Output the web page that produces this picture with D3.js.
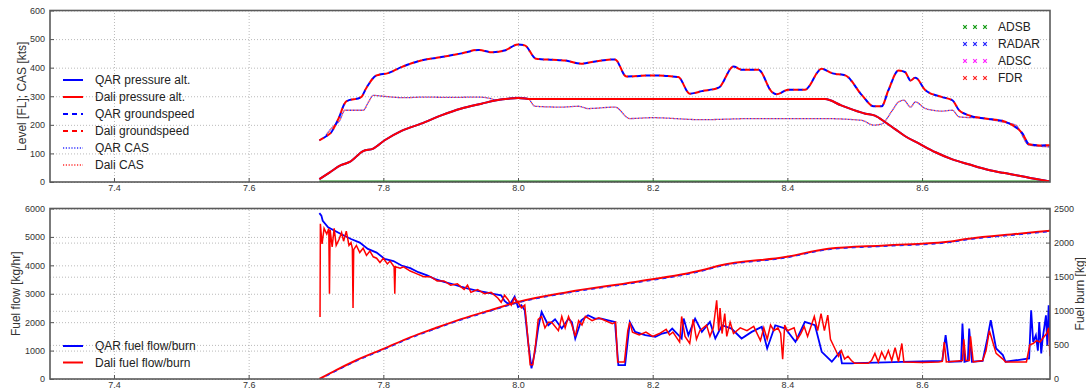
<!DOCTYPE html>
<html>
<head>
<meta charset="utf-8">
<script src="https://cdn.jsdelivr.net/npm/d3@7/dist/d3.min.js"></script>
<style>
  body { margin: 0; background: #fff; }
  svg { font-family: "Liberation Sans", Arial, sans-serif; }
  .tick text { fill: #333; font-size: 9px; }
  .grid line { stroke: #a8a8a8; stroke-width: 0.8; stroke-dasharray: 1,2; }
  .frame { fill: none; stroke: #5a5a5a; stroke-width: 1.6; }
  .lbl { fill: #333; font-size: 12px; }
  .leg { fill: #222; font-size: 12px; }
</style>
</head>
<body>
<div id="chart"></div>
<script>
// ---- data (time in hours) ----

// pressure altitude [FL] (QAR and Dali sit on top of each other)
var altTime = [7.705,7.72,7.737,7.75,7.77,7.785,7.802,7.827,7.856,7.886,7.916,7.946,7.966,7.985,8.0,8.02,8.456,8.48,8.516,8.53,8.545,8.56,8.575,8.595,8.62,8.645,8.669,8.699,8.72,8.744,8.765,8.79];
var altQAR  = [10,33,59,70,108,117,146,179,204,233,257,274,285,291,294,290,290,268,239,232,210,185,160,135,104,79,62,42,32,22,12,2];
var altDali = [10,33,59,70,108,117,146,179,204,233,257,274,285,291,294,290,290,268,239,232,210,185,160,135,104,79,62,42,32,22,12,2];

// groundspeed [kts]
var gsTime = [7.705,7.715,7.723,7.73,7.735,7.740,7.745,7.767,7.775,7.79,7.807,7.827,7.856,7.886,7.916,7.941,7.961,7.98,8.0,8.01,8.027,8.07,8.094,8.11,8.144,8.161,8.199,8.238,8.255,8.273,8.298,8.32,8.332,8.357,8.377,8.384,8.402,8.426,8.451,8.466,8.486,8.511,8.528,8.54,8.55,8.565,8.575,8.583,8.59,8.605,8.63,8.645,8.655,8.67,8.694,8.719,8.734,8.749,8.759,8.775,8.79];
var gsQAR  = [146,160,175,205,230,262,282,297,330,373,381,402,425,437,450,462,454,460,481,478,431,425,414,420,429,369,373,367,309,318,330,404,393,393,315,307,323,323,396,381,373,303,265,265,321,390,384,355,365,321,297,286,251,233,222,214,199,170,132,128,129];
var gsDali = [146,160,175,205,230,262,282,297,330,373,381,402,425,437,450,462,454,460,481,478,431,425,414,420,429,369,373,367,309,318,330,404,393,393,315,307,323,323,396,381,373,303,265,265,321,390,384,355,365,321,297,286,251,233,222,214,199,170,132,128,129];

// calibrated airspeed [kts]
var casTime = [7.715,7.722,7.728,7.735,7.743,7.770,7.778,7.785,7.80,7.83,7.86,7.90,7.94,7.96,7.966,7.98,8.0,8.015,8.025,8.065,8.09,8.104,8.144,8.166,8.199,8.273,8.35,8.45,8.51,8.528,8.54,8.556,8.565,8.573,8.583,8.59,8.605,8.63,8.645,8.655,8.694,8.719,8.739,8.759,8.79];
var casQAR  = [165,185,199,215,251,251,280,303,300,295,297,296,297,292,286,290,296,292,265,262,265,257,262,222,225,218,222,222,216,199,203,251,280,286,262,280,257,248,251,228,222,210,199,129,123];
var casDali = [165,185,199,215,251,251,280,303,300,295,297,296,297,292,286,290,296,292,265,262,265,257,262,222,225,218,222,222,216,199,203,251,280,286,262,280,257,248,251,228,222,210,199,129,123];

// ADSB track points (all at level 0)
var adsbTime = [7.705, 8.79];
var adsbLevel = [0, 0];

// QAR fuel flow [kg/hr]
var qffTime = [7.705,7.708,7.710,7.718,7.737,7.752,7.765,7.777,7.79,7.802,7.815,7.827,7.84,7.852,7.865,7.876,7.89,7.901,7.915,7.926,7.94,7.951,7.965,7.975,7.980,7.985,7.99,7.995,8.0,8.005,8.010,8.015,8.020,8.025,8.030,8.035,8.045,8.055,8.065,8.075,8.080,8.085,8.094,8.104,8.114,8.124,8.134,8.144,8.149,8.159,8.166,8.174,8.189,8.204,8.214,8.224,8.229,8.243,8.246,8.253,8.263,8.273,8.285,8.293,8.303,8.317,8.332,8.347,8.362,8.370,8.382,8.397,8.412,8.426,8.441,8.451,8.466,8.478,8.481,8.496,8.5,8.545,8.570,8.630,8.635,8.640,8.658,8.660,8.663,8.668,8.670,8.674,8.690,8.697,8.702,8.71,8.72,8.724,8.759,8.762,8.765,8.769,8.772,8.774,8.777,8.779,8.784,8.786,8.788,8.79];
var qff = [5838,5750,5569,5335,5102,4927,4800,4577,4450,4227,4150,3993,3900,3759,3650,3526,3420,3352,3250,3177,3100,3060,2990,2942,2750,2650,2700,2900,2532,2600,2417,1307,374,956,1800,2357,1891,2100,1775,2125,2000,1425,2067,2242,2125,2125,2067,2008,490,490,2008,1658,1541,1483,1600,1658,1775,1425,2125,1541,2125,1658,2008,1425,1891,1775,1425,1658,1833,1075,1891,1775,1307,2008,1891,956,607,956,549,549,560,583,600,640,1541,607,620,1950,607,640,1775,607,640,1425,2067,1075,840,607,723,2417,1300,1541,1000,2000,900,1400,2242,1200,2591,1541];

// Dali fuel flow [kg/hr]
var dffTime = [7.706,7.7065,7.709,7.712,7.716,7.719,7.720,7.721,7.724,7.727,7.73,7.734,7.738,7.741,7.745,7.749,7.752,7.754,7.755,7.756,7.76,7.765,7.77,7.775,7.78,7.785,7.79,7.795,7.80,7.806,7.81,7.816,7.817,7.818,7.825,7.83,7.84,7.85,7.86,7.87,7.88,7.89,7.90,7.91,7.92,7.925,7.93,7.94,7.95,7.96,7.97,7.975,7.98,7.985,7.99,7.995,8.0,8.005,8.01,8.014,8.018,8.022,8.026,8.03,8.035,8.04,8.045,8.05,8.06,8.065,8.07,8.075,8.08,8.085,8.09,8.095,8.1,8.11,8.12,8.13,8.14,8.145,8.148,8.158,8.163,8.166,8.17,8.18,8.19,8.2,8.21,8.22,8.225,8.23,8.24,8.243,8.248,8.255,8.26,8.265,8.27,8.28,8.285,8.29,8.295,8.298,8.30,8.303,8.307,8.31,8.315,8.32,8.33,8.34,8.35,8.36,8.365,8.37,8.375,8.38,8.386,8.39,8.393,8.396,8.40,8.41,8.415,8.42,8.425,8.43,8.44,8.445,8.45,8.455,8.46,8.464,8.47,8.476,8.48,8.485,8.49,8.495,8.50,8.52,8.525,8.53,8.535,8.54,8.545,8.55,8.555,8.56,8.565,8.57,8.573,8.60,8.625,8.63,8.633,8.636,8.66,8.662,8.665,8.67,8.672,8.676,8.69,8.695,8.70,8.705,8.71,8.72,8.724,8.755,8.76,8.765,8.77,8.775,8.78,8.785,8.788,8.79];
var dff = [2180,5460,4750,5300,5100,5300,3000,5250,4650,5300,4700,4900,5150,4850,5200,4700,4800,4600,2500,4550,4700,4450,4600,4350,4500,4300,4250,4100,4250,4050,4150,3950,3000,3950,3900,3950,3800,3700,3600,3600,3450,3450,3300,3350,3150,3300,3050,3150,3000,3050,2850,2700,2950,2800,2600,2850,2700,2500,2600,1600,500,500,1200,2100,2200,1800,2000,2000,1700,2200,1800,2200,1900,1500,2050,1900,2200,2050,2150,2050,1950,2000,600,600,1700,2000,1650,1550,1650,1500,1600,1750,1550,1650,1300,2200,1500,1250,2100,1400,1700,1900,1500,1800,2767,1700,2500,1600,2300,1500,2000,1600,1800,1700,1850,1350,1800,1400,1900,1700,1800,1600,700,1900,1700,1800,1400,1600,1850,1500,2200,1700,2300,1700,2250,1400,1100,800,1000,700,800,650,550,550,650,900,600,950,700,1000,650,1100,600,1250,600,580,600,620,1300,600,650,1400,650,650,1500,600,650,1000,1700,1300,900,700,600,600,1200,1250,1350,1300,1450,1600,1800,800];

// fuel burn [kg] (right axis)
var fbTime = [7.705,7.73,7.76,7.802,7.84,7.876,7.91,7.951,8.0,8.075,8.174,8.273,8.298,8.397,8.461,8.545,8.635,8.669,8.744,8.79];
var fbQAR  = [0,130,275,449,610,741,860,984,1130,1276,1422,1594,1660,1788,1910,1959,2008,2057,2130,2175];
var fbDali = [0,130,275,449,610,741,860,984,1130,1276,1422,1594,1660,1788,1910,1959,2008,2057,2130,2175];

var xTicks = [7.4, 7.6, 7.8, 8.0, 8.2, 8.4, 8.6];
var topTicks = [0, 100, 200, 300, 400, 500, 600];
var flowTicks = [0, 1000, 2000, 3000, 4000, 5000, 6000];
var burnTicks = [0, 500, 1000, 1500, 2000, 2500];

// ---- layout ----
var W = 1086, H = 392;
var left = 50, right = 1050;
var top1 = 10.5, bot1 = 182;
var top2 = 208.5, bot2 = 379;

var svg = d3.select("#chart").append("svg")
    .attr("width", W)
    .attr("height", H);

var x = d3.scaleLinear().domain([7.305, 8.79]).range([left, right]);
var yTop = d3.scaleLinear().domain([0, 600]).range([bot1, top1]);
var yFlow = d3.scaleLinear().domain([0, 6000]).range([bot2, top2]);
var yBurn = d3.scaleLinear().domain([0, 2500]).range([bot2, top2]);

function zip(t, v) { return t.map(function(d, i) { return [d, v[i]]; }); }

// clip paths for the two panels
var defs = svg.append("defs");
defs.append("clipPath").attr("id", "clip1").append("rect")
    .attr("x", left).attr("y", top1).attr("width", right - left).attr("height", bot1 - top1);
defs.append("clipPath").attr("id", "clip2").append("rect")
    .attr("x", left).attr("y", top2).attr("width", right - left).attr("height", bot2 - top2);

// grid + axes for one panel
function panel(y0, y1, yScale, yTickVals, extraScale, extraTicks) {
  var g = svg.append("g");
  // vertical grid
  g.append("g").attr("class", "grid")
      .attr("transform", "translate(0," + y1 + ")")
      .call(d3.axisBottom(x).tickValues(xTicks).tickSize(-(y1 - y0)).tickFormat(""))
      .call(function(s) { s.select(".domain").remove(); });
  // horizontal grid
  g.append("g").attr("class", "grid")
      .attr("transform", "translate(" + left + ",0)")
      .call(d3.axisLeft(yScale).tickValues(yTickVals).tickSize(-(right - left)).tickFormat(""))
      .call(function(s) { s.select(".domain").remove(); });
  if (extraScale) {
    g.append("g").attr("class", "grid")
        .attr("transform", "translate(" + left + ",0)")
        .call(d3.axisLeft(extraScale).tickValues(extraTicks).tickSize(-(right - left)).tickFormat(""))
        .call(function(s) { s.select(".domain").remove(); });
  }
  // tick labels
  var xa = g.append("g")
      .attr("transform", "translate(0," + y1 + ")")
      .call(d3.axisBottom(x).tickValues(xTicks).tickSize(-4).tickPadding(3).tickFormat(d3.format(".1f")));
  xa.select(".domain").remove();
  xa.selectAll("line").attr("stroke", "#555");
  var ya = g.append("g")
      .attr("transform", "translate(" + left + ",0)")
      .call(d3.axisLeft(yScale).tickValues(yTickVals).tickSize(-4).tickPadding(5).tickFormat(d3.format("d")));
  ya.select(".domain").remove();
  ya.selectAll("line").attr("stroke", "#555");
  if (extraScale) {
    var ra = g.append("g")
        .attr("transform", "translate(" + right + ",0)")
        .call(d3.axisRight(extraScale).tickValues(extraTicks).tickSize(-4).tickPadding(4).tickFormat(d3.format("d")));
    ra.select(".domain").remove();
    ra.selectAll("line").attr("stroke", "#555");
  }
  return g;
}

panel(top1, bot1, yTop, topTicks);
panel(top2, bot2, yFlow, flowTicks, yBurn, burnTicks);

// ---- top panel lines ----
var lineTop = d3.line().x(function(d) { return x(d[0]); }).y(function(d) { return yTop(d[1]); }).curve(d3.curveMonotoneX);
var p1 = svg.append("g").attr("clip-path", "url(#clip1)");

p1.append("path").datum(zip(adsbTime, adsbLevel))
    .attr("d", lineTop).attr("fill", "none").attr("stroke", "#118a11").attr("stroke-width", 3);

p1.append("path").datum(zip(casTime, casQAR))
    .attr("d", lineTop).attr("fill", "none").attr("stroke", "#3030ff").attr("stroke-width", 1.3)
    .attr("stroke-dasharray", "1.2,1.6");
p1.append("path").datum(zip(casTime, casDali))
    .attr("d", lineTop).attr("fill", "none").attr("stroke", "#ff3030").attr("stroke-width", 1.3)
    .attr("stroke-dasharray", "1.2,1.6").attr("stroke-dashoffset", 1.4);

p1.append("path").datum(zip(gsTime, gsQAR))
    .attr("d", lineTop).attr("fill", "none").attr("stroke", "#0000ff").attr("stroke-width", 2)
    .attr("stroke-dasharray", "5,4").attr("stroke-dashoffset", 4.5);
p1.append("path").datum(zip(gsTime, gsDali))
    .attr("d", lineTop).attr("fill", "none").attr("stroke", "#ff0000").attr("stroke-width", 2)
    .attr("stroke-dasharray", "5,4");

p1.append("path").datum(zip(altTime, altQAR))
    .attr("d", lineTop).attr("fill", "none").attr("stroke", "#0000ff").attr("stroke-width", 2);
p1.append("path").datum(zip(altTime, altDali))
    .attr("d", lineTop).attr("fill", "none").attr("stroke", "#ff0000").attr("stroke-width", 2);

// ---- bottom panel lines ----
var lineFlow = d3.line().x(function(d) { return x(d[0]); }).y(function(d) { return yFlow(d[1]); });
var lineBurn = d3.line().x(function(d) { return x(d[0]); }).y(function(d) { return yBurn(d[1]); }).curve(d3.curveMonotoneX);
var p2 = svg.append("g").attr("clip-path", "url(#clip2)");

p2.append("path").datum(zip(qffTime, qff))
    .attr("d", lineFlow).attr("fill", "none").attr("stroke", "#0000ff").attr("stroke-width", 1.8);
p2.append("path").datum(zip(dffTime, dff))
    .attr("d", lineFlow).attr("fill", "none").attr("stroke", "#ff0000").attr("stroke-width", 1.5);

p2.append("path").datum(zip(fbTime, fbDali))
    .attr("d", lineBurn).attr("fill", "none").attr("stroke", "#ff0000").attr("stroke-width", 2);
p2.append("path").datum(zip(fbTime, fbQAR))
    .attr("d", lineBurn).attr("fill", "none").attr("stroke", "#2020ff").attr("stroke-width", 1)
    .attr("stroke-dasharray", "4,4").attr("transform", "translate(0,1)");

// frames
svg.append("rect").attr("class", "frame")
    .attr("x", left).attr("y", top1).attr("width", right - left).attr("height", bot1 - top1);
svg.append("rect").attr("class", "frame")
    .attr("x", left).attr("y", top2).attr("width", right - left).attr("height", bot2 - top2);

// axis labels
svg.append("text").attr("class", "lbl")
    .attr("transform", "translate(26," + ((top1 + bot1) / 2) + ") rotate(-90)")
    .attr("text-anchor", "middle").text("Level [FL]; CAS [kts]");
svg.append("text").attr("class", "lbl")
    .attr("transform", "translate(20," + ((top2 + bot2) / 2) + ") rotate(-90)")
    .attr("text-anchor", "middle").text("Fuel flow [kg/hr]");
svg.append("text").attr("class", "lbl")
    .attr("transform", "translate(1084," + ((top2 + bot2) / 2) + ") rotate(-90)")
    .attr("text-anchor", "middle").text("Fuel burn [kg]");

// ---- legends ----
var legTop = [
  {name: "QAR pressure alt.", color: "#0000ff", dash: null, w: 2},
  {name: "Dali pressure alt.", color: "#ff0000", dash: null, w: 2},
  {name: "QAR groundspeed", color: "#0000ff", dash: "5,4", w: 2},
  {name: "Dali groundspeed", color: "#ff0000", dash: "5,4", w: 2},
  {name: "QAR CAS", color: "#3030ff", dash: "1.2,1.6", w: 1.3},
  {name: "Dali CAS", color: "#ff3030", dash: "1.2,1.6", w: 1.3}
];
var legBot = [
  {name: "QAR fuel flow/burn", color: "#0000ff", dash: null, w: 2},
  {name: "Dali fuel flow/burn", color: "#ff0000", dash: null, w: 2}
];

function lineLegend(items, x0, y0, step) {
  var g = svg.append("g");
  var row = g.selectAll("g").data(items).enter().append("g")
      .attr("transform", function(d, i) { return "translate(" + x0 + "," + (y0 + i * step) + ")"; });
  row.append("line").attr("x1", 0).attr("x2", 20).attr("y1", 0).attr("y2", 0)
      .attr("stroke", function(d) { return d.color; })
      .attr("stroke-width", function(d) { return d.w; })
      .attr("stroke-dasharray", function(d) { return d.dash; });
  row.append("text").attr("class", "leg").attr("x", 32).attr("dy", "0.35em").text(function(d) { return d.name; });
}
lineLegend(legTop, 63, 80, 17);
lineLegend(legBot, 63, 346, 16.5);

// source legend with x markers
var sources = [
  {name: "ADSB", color: "#119911"},
  {name: "RADAR", color: "#2222ff"},
  {name: "ADSC", color: "#ff22ff"},
  {name: "FDR", color: "#ff2222"}
];
var sg = svg.append("g");
var srow = sg.selectAll("g").data(sources).enter().append("g")
    .attr("transform", function(d, i) { return "translate(965," + (27 + i * 17) + ")"; });
srow.selectAll("path").data(function(d) { return [0, 10, 20].map(function(o) { return {o: o, c: d.color}; }); })
    .enter().append("path")
    .attr("d", function(d) { return "M" + (d.o - 1.8) + ",-1.8L" + (d.o + 1.8) + ",1.8M" + (d.o - 1.8) + ",1.8L" + (d.o + 1.8) + ",-1.8"; })
    .attr("stroke", function(d) { return d.c; }).attr("stroke-width", 1.2);
srow.append("text").attr("class", "leg").attr("x", 33).attr("dy", "0.35em").text(function(d) { return d.name; });
</script>
</body>
</html>
